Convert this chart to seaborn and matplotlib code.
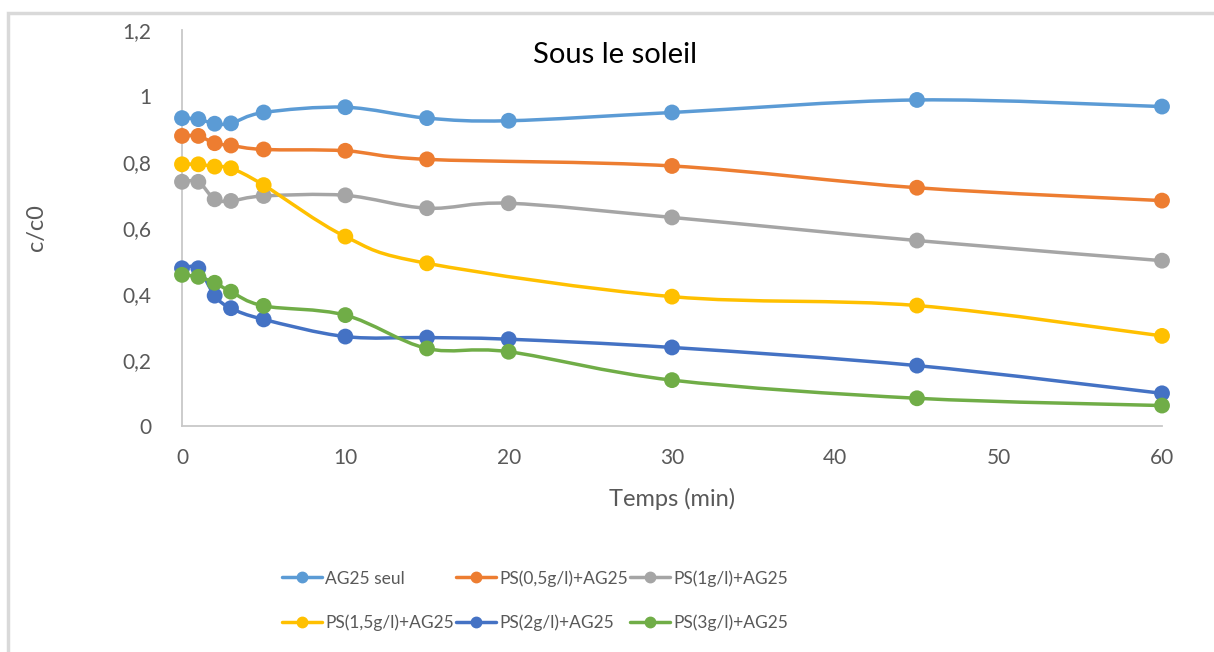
import numpy as np
import pandas as pd
import matplotlib as mpl
mpl.use('Agg')
import matplotlib.pyplot as plt
from matplotlib.path import Path
from matplotlib.patches import PathPatch, Rectangle
from matplotlib.lines import Line2D
from matplotlib.ticker import FuncFormatter
import seaborn as sns

# temps (min) and c/c0
temps = [0, 1, 2, 3, 5, 10, 15, 20, 30, 45, 60]
temps_no20 = [0, 1, 2, 3, 5, 10, 15, 30, 45, 60]

ag25_seul = [0.933, 0.930, 0.916, 0.917, 0.950, 0.966, 0.933, 0.925, 0.950, 0.988, 0.968]
ps_05 = [0.879, 0.879, 0.857, 0.850, 0.838, 0.834, 0.808, 0.788, 0.722, 0.683]
ps_1 = [0.740, 0.740, 0.687, 0.682, 0.697, 0.699, 0.660, 0.675, 0.632, 0.562, 0.501]
ps_15 = [0.793, 0.793, 0.786, 0.781, 0.730, 0.574, 0.493, 0.392, 0.365, 0.273]
ps_2 = [0.478, 0.478, 0.395, 0.357, 0.323, 0.271, 0.268, 0.263, 0.238, 0.183, 0.099]
ps_3 = [0.458, 0.452, 0.434, 0.407, 0.364, 0.336, 0.235, 0.225, 0.139, 0.084, 0.062]

labels = ["AG25 seul", "PS(0,5g/l)+AG25", "PS(1g/l)+AG25",
          "PS(1,5g/l)+AG25", "PS(2g/l)+AG25", "PS(3g/l)+AG25"]
colors = ["#5B9BD5", "#ED7D31", "#A5A5A5", "#FFC000", "#4472C4", "#70AD47"]

series = [(temps, ag25_seul), (temps_no20, ps_05), (temps, ps_1),
          (temps_no20, ps_15), (temps, ps_2), (temps, ps_3)]

rows = []
for lab, (xs, ys) in zip(labels, series):
    for x, y in zip(xs, ys):
        rows.append([lab, x, y])
df = pd.DataFrame(rows, columns=["serie", "temps", "c/c0"])

sns.set_style("white")
plt.rcParams['font.family'] = ['Lato', 'DejaVu Sans']

fig = plt.figure(figsize=(12.14, 6.52), dpi=100)
ax = fig.add_axes([182/1214, 1-426/652, 980/1214, 396/652])

# outer frame like the excel chart area
fig.patches.append(Rectangle((8/1214, -0.1), 1.2, 1 - 13/652 + 0.1, transform=fig.transFigure,
                             fill=False, edgecolor="#d9d9d9", linewidth=2.5))


def smooth_path(xs, ys):
    # excel style smoothed line (catmull-rom as cubic bezier)
    pts = np.column_stack([xs, ys])
    verts = [pts[0]]
    codes = [Path.MOVETO]
    n = len(pts)
    for i in range(n - 1):
        p0 = pts[i - 1] if i > 0 else pts[i]
        p1 = pts[i]
        p2 = pts[i + 1]
        p3 = pts[i + 2] if i + 2 < n else pts[i + 1]
        verts += [p1 + (p2 - p0) / 6, p2 - (p3 - p1) / 6, p2]
        codes += [Path.CURVE4] * 3
    return Path(verts, codes)


for (xs, ys), c in zip(series, colors):
    ax.add_patch(PathPatch(smooth_path(xs, ys), facecolor="none", edgecolor=c, clip_on=False,
                           linewidth=2.5, capstyle="round", joinstyle="round", zorder=2))

sns.scatterplot(data=df, x="temps", y="c/c0", hue="serie", palette=colors,
                hue_order=labels, s=130, linewidth=0, legend=False, ax=ax, zorder=3,
                clip_on=False)

ax.set_xlim(0, 60)
ax.set_ylim(0, 1.2)
ax.set_xticks(range(0, 61, 10))
ax.set_yticks(np.arange(0, 1.21, 0.2))
ax.yaxis.set_major_formatter(FuncFormatter(lambda v, p: f"{v:.1f}".rstrip("0").rstrip(".").replace(".", ",") if v else "0"))
ax.tick_params(axis="both", length=0, labelsize=15, labelcolor="#595959")
ax.tick_params(axis="x", pad=16)
ax.tick_params(axis="y", pad=22)

for s in ["top", "right"]:
    ax.spines[s].set_visible(False)
for s in ["left", "bottom"]:
    ax.spines[s].set_color("#c8c8c8")
    ax.spines[s].set_linewidth(1.3)
ax.spines["left"].set_zorder(0)
ax.spines["bottom"].set_zorder(0)

ax.set_xlabel("Temps (min)", fontsize=17, color="#595959", labelpad=14)
ax.set_ylabel("c/c0", fontsize=17, color="#595959")
ax.yaxis.set_label_coords(-0.138, 0.5)
fig.text(615/1214, 1 - 55/652, "Sous le soleil", ha="center", va="center",
         fontsize=21, color="black")

handles = [Line2D([], [], color=c, linewidth=2.5, marker="o", markersize=7.5) for c in colors]
order = [0, 3, 1, 4, 2, 5]
fig.legend([handles[i] for i in order], [labels[i] for i in order], ncol=3,
           loc="upper left", bbox_to_anchor=(282/1214, 1 - 570/652), frameon=False,
           fontsize=12.5, labelcolor="#595959", handlelength=2.3, handletextpad=0.2,
           columnspacing=0.1, labelspacing=1.6, borderaxespad=0, borderpad=0)

fig.savefig("out.png", dpi=100)
